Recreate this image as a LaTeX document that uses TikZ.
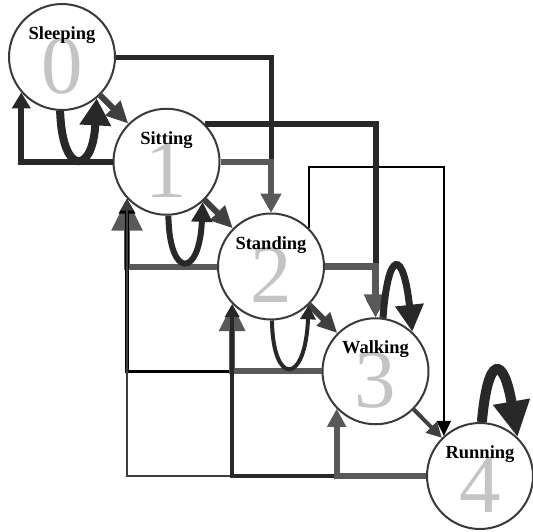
\documentclass[tikz,border=0pt]{standalone}
\usepackage{fontspec}
\setmainfont{Liberation Serif}
\usepackage{tikz}
\usetikzlibrary{arrows.meta}
\definecolor{darkline}{HTML}{282828}
\definecolor{midline}{HTML}{404040}
\definecolor{grayline}{HTML}{595959}
\definecolor{ringgray}{HTML}{3A3A3A}
\definecolor{digitgray}{HTML}{C4C4C4}
\tikzset{
  state/.style={circle, draw=ringgray, line width=2pt, fill=white, minimum size=106pt, inner sep=0pt},
  title/.style={anchor=base, font=\bfseries\fontsize{18.5}{20}\selectfont},
  digit/.style={anchor=base, text=digitgray, font=\fontsize{83}{84}\selectfont},
  arrowhd/.style 2 args={-{Triangle[width=#1pt,length=#2pt]}}
}

\begin{document}
\begin{tikzpicture}[x=1pt,y=1pt]
\useasboundingbox (0,0) rectangle (533,-531);

% the five states down the diagonal
\foreach \i/\lbl in {0/Sleeping,1/Sitting,2/Standing,3/Walking,4/Running} {
  \node[state] (s\i) at (62+104.5*\i,-57-104.75*\i) {};
  \node[digit] (d\i) at ([yshift=-36pt]s\i.center) {\i};
  \node[title] (t\i) at ([yshift=17.5pt]s\i.center) {\lbl};
}

% forward jumps over the top
\draw[black, line width=2pt, arrowhd={14}{15}] (s2.45) -- ++(0,61) -| (s4.132);
\draw[darkline, line width=5pt, arrowhd={18}{18}] (s0.east) -| (s2.north);
\draw[darkline, line width=6pt, arrowhd={18}{18}] (s1.45) -| (s3.north);
\draw[grayline, line width=6.5pt, arrowhd={20}{19}] (s1.east) -| (s2.north);
\draw[grayline, line width=7pt, arrowhd={22}{23}] (s2.east) -| (s3.north);

% backward jumps underneath
\draw[darkline, line width=6pt, arrowhd={18}{16}] (s1.west) -| (s0.-139);
\draw[grayline, line width=6pt, arrowhd={30}{32}] (s2.west) -| (s1.-137);
\draw[black, line width=3.5pt, arrowhd={16}{15}] (s3.west) -| (s1.-137);
\draw[darkline!90, line width=2pt, arrowhd={12}{12}] (s4.west) -| (s1.-137);
\draw[grayline, line width=6pt, arrowhd={25}{27}] (s3.west) -| (s2.-136);
\draw[darkline, line width=4pt, arrowhd={14}{13}] (s4.west) -| (s2.-136);
\draw[grayline, line width=6pt, arrowhd={18}{18}] (s4.west) -| (s3.-136);

% next state
\draw[midline, line width=6pt, arrowhd={20}{22}] (s0.-45) -- (s1.135);
\draw[midline, line width=6pt, arrowhd={20}{22}] (s1.-45) -- (s2.135);
\draw[midline, line width=6pt, arrowhd={18}{20}] (s2.-45) -- (s3.135);
\draw[midline, line width=4pt, arrowhd={15}{15}] (s3.-45) -- (s4.135);

% staying put
\draw[darkline, line width=8pt, arrowhd={30}{27}] (s0.-92) .. controls +(2,-65) and +(-4,-77) .. (s0.-50);
\draw[darkline, line width=6pt, arrowhd={20}{20}] (s1.-88) .. controls +(1,-64) and +(-3,-76) .. (s1.-48);
\draw[darkline, line width=4pt, arrowhd={15}{14}] (s2.-89) .. controls +(1,-66) and +(-3,-80) .. (s2.-46);
\draw[darkline, line width=7pt, arrowhd={27}{27}] (s3.82) .. controls +(5,69) and +(-9,83) .. (s3.47);
\draw[darkline, line width=10pt, arrowhd={35}{36}] (s4.88) .. controls +(6,68) and +(-14,82) .. (s4.46);
\end{tikzpicture}
\end{document}
